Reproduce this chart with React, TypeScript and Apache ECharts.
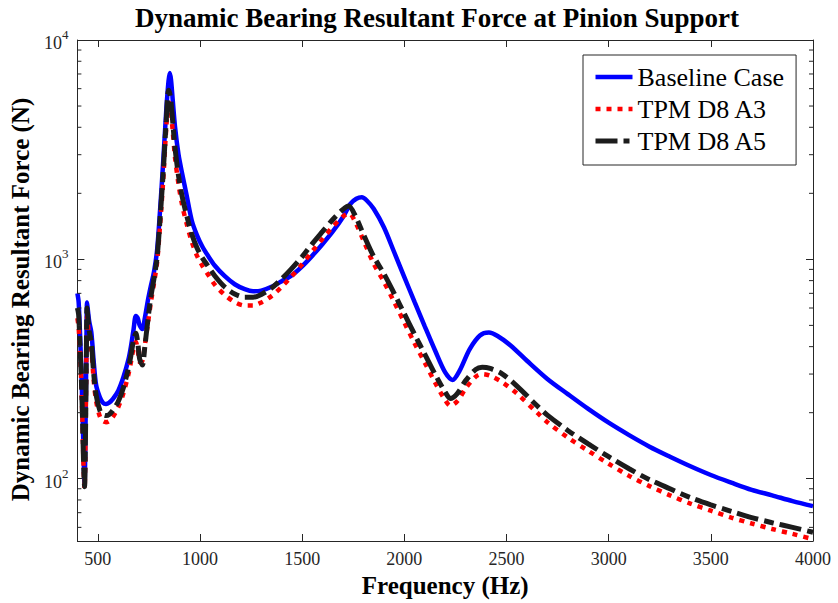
import React, { useEffect, useRef } from 'react';
import * as echarts from 'echarts';

// ---------------- data ----------------
const seriesNames = ['Baseline Case', 'TPM D8 A3', 'TPM D8 A5'];

const freqBaseline = [400, 406, 412, 419, 425, 430, 435, 440, 444, 447, 450, 458, 468, 480, 492, 510, 525, 540, 555, 575, 600, 625, 650, 662, 675, 686, 695, 705, 718, 730, 745, 760, 775, 790, 805, 820, 835, 846, 852, 858, 866, 878, 895, 912, 935, 960, 985, 1010, 1040, 1073, 1120, 1170, 1219, 1260, 1300, 1350, 1400, 1445, 1500, 1550, 1600, 1650, 1700, 1736, 1765, 1792, 1815, 1850, 1900, 1950, 2000, 2050, 2100, 2150, 2200, 2236, 2270, 2320, 2370, 2414, 2460, 2520, 2600, 2700, 2800, 2900, 3000, 3100, 3200, 3300, 3400, 3500, 3600, 3700, 3800, 3900, 4000];
const baselineCase = [700, 640, 480, 316, 200, 130, 95, 180, 400, 635, 600, 520, 466, 340, 266, 235, 222, 219, 222, 232, 252, 290, 350, 400, 480, 552, 540, 500, 481, 540, 650, 760, 880, 1100, 1700, 2800, 4800, 6500, 7070, 6600, 5400, 4000, 3000, 2480, 1950, 1500, 1290, 1150, 1035, 935, 840, 770, 731, 715, 720, 750, 795, 840, 930, 1040, 1175, 1340, 1560, 1790, 1890, 1920, 1860, 1700, 1400, 1080, 830, 640, 495, 385, 305, 282, 310, 390, 450, 464, 445, 405, 345, 285, 243, 208, 180, 158, 140, 126, 114, 104, 96, 89, 84, 79, 75];

const freqA3 = [400, 406, 412, 419, 425, 430, 435, 440, 444, 447, 450, 458, 468, 480, 492, 510, 525, 540, 555, 575, 600, 625, 650, 662, 675, 686, 695, 705, 718, 730, 745, 760, 775, 790, 805, 820, 835, 846, 852, 858, 866, 878, 895, 912, 935, 960, 985, 1010, 1040, 1073, 1120, 1170, 1219, 1260, 1300, 1350, 1400, 1445, 1500, 1550, 1600, 1650, 1700, 1730, 1760, 1800, 1849, 1900, 1950, 2000, 2050, 2100, 2150, 2200, 2225, 2260, 2300, 2350, 2381, 2420, 2480, 2550, 2650, 2700, 2800, 2900, 3000, 3100, 3200, 3300, 3400, 3500, 3600, 3700, 3800, 3900, 4000];
const tpmD8A3 = [540, 490, 390, 275, 180, 115, 90, 160, 350, 550, 520, 440, 390, 280, 225, 192, 183, 181, 183, 192, 212, 245, 300, 340, 395, 420, 390, 340, 345, 405, 510, 640, 780, 970, 1450, 2300, 4000, 5200, 5100, 4700, 3900, 2900, 2200, 1780, 1450, 1200, 1040, 940, 850, 765, 690, 638, 616, 616, 636, 680, 750, 830, 950, 1090, 1240, 1410, 1570, 1620, 1480, 1220, 960, 790, 640, 515, 415, 338, 275, 228, 215, 226, 258, 292, 300, 295, 275, 245, 200, 181, 154, 134, 117, 103, 92.5, 84, 77, 71.5, 66.5, 62.5, 59, 56, 53];

const freqA5 = [400, 406, 412, 419, 425, 430, 435, 440, 444, 447, 450, 458, 468, 480, 492, 510, 525, 540, 555, 575, 600, 625, 650, 662, 675, 686, 695, 705, 718, 730, 745, 760, 775, 790, 805, 820, 835, 846, 852, 858, 866, 878, 895, 912, 935, 960, 985, 1010, 1040, 1073, 1120, 1170, 1219, 1260, 1300, 1350, 1400, 1445, 1500, 1550, 1600, 1650, 1700, 1727, 1760, 1800, 1849, 1900, 1950, 2000, 2050, 2100, 2150, 2200, 2225, 2260, 2300, 2350, 2381, 2420, 2480, 2550, 2650, 2700, 2800, 2900, 3000, 3100, 3200, 3300, 3400, 3500, 3600, 3700, 3800, 3900, 4000];
const tpmD8A5 = [600, 560, 420, 290, 190, 120, 92, 170, 380, 600, 560, 470, 420, 300, 240, 205, 196, 194, 196, 206, 225, 260, 320, 365, 430, 460, 420, 350, 330, 400, 530, 680, 820, 1020, 1550, 2500, 4300, 5900, 5700, 5200, 4300, 3200, 2400, 1950, 1580, 1300, 1130, 1020, 930, 840, 750, 695, 672, 672, 692, 740, 815, 900, 1030, 1180, 1340, 1520, 1690, 1750, 1580, 1300, 1035, 860, 700, 565, 455, 370, 300, 248, 232, 245, 280, 315, 322, 318, 300, 265, 215, 195, 166, 144, 126, 111, 99, 90, 82, 76, 71, 66.5, 63, 60, 57];

const xTickLabels = [500, 1000, 1500, 2000, 2500, 3000, 3500, 4000];
const yMinorTicks = [60, 70, 80, 90, 200, 300, 400, 500, 600, 700, 800, 900, 2000, 3000, 4000, 5000, 6000, 7000, 8000, 9000];

const X_MIN = 400;
const X_MAX = 4000;
const Y_MIN = 52;
const Y_MAX = 10000;

const SERIF = "'Liberation Serif', 'Times New Roman', Times, serif";
const AXIS_COLOR = '#262626';

const pair = (xs: number[], ys: number[]) => xs.map((x, i) => [x, ys[i]]);

export default function App() {
  const ref = useRef<HTMLDivElement>(null);

  useEffect(() => {
    if (!ref.current) return;
    const chart = echarts.init(ref.current, undefined, { renderer: 'svg' });

    const axisLine = { show: true, onZero: false, lineStyle: { color: AXIS_COLOR, width: 1 } };
    const axisTick = { show: true, inside: true, length: 7, lineStyle: { color: AXIS_COLOR, width: 1 } };

    const xCommon = {
      type: 'value' as const,
      min: X_MIN,
      max: X_MAX,
      splitNumber: 8,
      minInterval: 500,
      maxInterval: 500,
      axisLine,
      axisTick,
      splitLine: { show: false },
    };

    const isPow10 = (v: number) => {
      const l = Math.log10(v);
      return Math.abs(l - Math.round(l)) < 1e-6;
    };

    const yCommon = {
      type: 'log' as const,
      logBase: 10,
      min: Y_MIN,
      max: Y_MAX,
      axisLine,
      axisTick,
      splitLine: { show: false },
      minorTick: { show: false },
    };

    const option: any = {
      animation: false,
      backgroundColor: '#ffffff',
      title: {
        text: 'Dynamic Bearing Resultant Force at Pinion Support',
        left: 135,
        top: 4,
        padding: 0,
        textStyle: { fontFamily: SERIF, fontWeight: 'bold', fontSize: 27, color: '#000' },
      },
      grid: { left: 71, right: 25, top: 40, bottom: 62, containLabel: false },
      legend: {
        orient: 'vertical',
        left: 583,
        top: 55,
        selectedMode: false,
        data: [
          { name: seriesNames[0], lineStyle: { width: 4.5, color: '#0000ff', type: 'solid' } },
          { name: seriesNames[1], lineStyle: { width: 4.5, color: '#ff0000', type: [5, 6] } },
          { name: seriesNames[2], lineStyle: { width: 5, color: '#1c1c1c', type: [22, 6, 6, 6] } },
        ],
        itemWidth: 37,
        itemHeight: 26,
        itemGap: 4,
        padding: [8, 12, 10, 10],
        borderColor: AXIS_COLOR,
        borderWidth: 1,
        backgroundColor: '#fff',
        itemStyle: { opacity: 0 },
        textStyle: { fontFamily: SERIF, fontSize: 26, color: '#000', lineHeight: 28 },
      },
      xAxis: [
        {
          ...xCommon,
          position: 'bottom',
          name: 'Frequency (Hz)',
          nameLocation: 'middle',
          nameGap: 29,
          nameTextStyle: { fontFamily: SERIF, fontWeight: 'bold', fontSize: 25, color: '#000' },
          axisLabel: {
            show: true,
            margin: 9,
            fontFamily: SERIF,
            fontSize: 18,
            color: AXIS_COLOR,
            showMinLabel: true,
            showMaxLabel: true,
            formatter: (v: number) => (xTickLabels.indexOf(v) >= 0 ? String(v) : ''),
          },
        },
        {
          ...xCommon,
          position: 'top',
          axisLabel: { show: false },
        },
      ],
      yAxis: [
        {
          ...yCommon,
          position: 'left',
          name: 'Dynamic Bearing Resultant Force (N)',
          nameLocation: 'middle',
          nameGap: 36,
          nameRotate: 90,
          nameTextStyle: {
            fontFamily: SERIF,
            fontWeight: 'bold',
            fontSize: 25,
            color: '#000',
            padding: [0, 18, 0, 0],
          },
          axisLabel: {
            show: true,
            margin: 9,
            showMinLabel: true,
            showMaxLabel: true,
            formatter: (v: number) => (isPow10(v) ? `{b|10}{s|${Math.round(Math.log10(v))}}` : ''),
            rich: {
              b: { fontFamily: SERIF, fontSize: 18, color: AXIS_COLOR, lineHeight: 24, verticalAlign: 'bottom' },
              s: { fontFamily: SERIF, fontSize: 13, color: AXIS_COLOR, lineHeight: 13, verticalAlign: 'top' },
            },
          },
        },
        {
          ...yCommon,
          position: 'right',
          axisLabel: { show: false },
        },
      ],
      series: [
        {
          type: 'custom',
          name: 'minor-ticks',
          xAxisIndex: 0,
          yAxisIndex: 0,
          silent: true,
          clip: false,
          z: 5,
          data: yMinorTicks.map((v) => [X_MIN, v]),
          renderItem: (_params: any, api: any) => {
            const v = api.value(1);
            const l = api.coord([X_MIN, v]);
            const r = api.coord([X_MAX, v]);
            const style = { stroke: AXIS_COLOR, lineWidth: 1 };
            return {
              type: 'group',
              children: [
                { type: 'line', shape: { x1: l[0], y1: l[1], x2: l[0] + 4, y2: l[1] }, style },
                { type: 'line', shape: { x1: r[0], y1: r[1], x2: r[0] - 4, y2: r[1] }, style },
              ],
            };
          },
        },
        {
          name: seriesNames[0],
          type: 'line',
          data: pair(freqBaseline, baselineCase),
          symbol: 'none',
          showSymbol: false,
          smooth: 0.3,
          clip: true,
          z: 2,
          itemStyle: { color: '#0000ff' },
          lineStyle: { color: '#0000ff', width: 4.5, type: 'solid' },
        },
        {
          name: seriesNames[1],
          type: 'line',
          data: pair(freqA3, tpmD8A3),
          symbol: 'none',
          showSymbol: false,
          smooth: 0.3,
          clip: true,
          z: 3,
          itemStyle: { color: '#ff0000' },
          lineStyle: { color: '#ff0000', width: 4.5, type: [5, 6] },
        },
        {
          name: seriesNames[2],
          type: 'line',
          data: pair(freqA5, tpmD8A5),
          symbol: 'none',
          showSymbol: false,
          smooth: 0.3,
          clip: true,
          z: 4,
          itemStyle: { color: '#1c1c1c' },
          lineStyle: { color: '#1c1c1c', width: 5, type: [22, 6, 10, 6] },
        },
      ],
    };

    chart.setOption(option);
    return () => chart.dispose();
  }, []);

  return (
    <div
      ref={ref}
      style={{ position: 'fixed', left: 0, top: 0, width: 838, height: 603, background: '#fff' }}
    />
  );
}
